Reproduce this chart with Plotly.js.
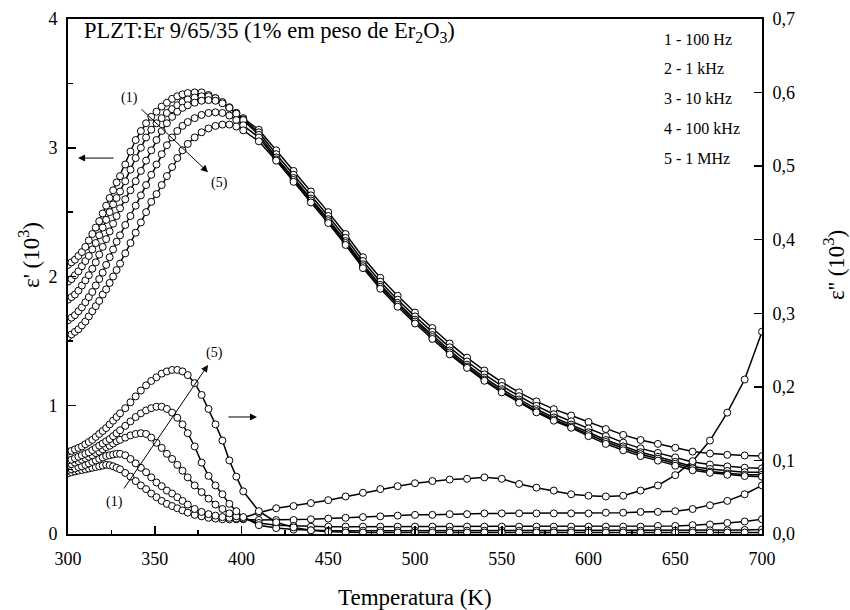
<!DOCTYPE html>
<html>
<head>
<meta charset="utf-8">
<script src="https://cdn.plot.ly/plotly-3.0.1.min.js"></script>
<style>html,body{margin:0;padding:0;background:#fff;}#chart{width:850px;height:610px;}</style>
</head>
<body>
<div id="chart"></div>
<script>
// Temperature (K) of the measured points
const temperature = [
  300,302,304,306,308,310,312,314,316,318,320,322,324,326,328,330,
  333,336,339,342,345,348,351,354,357,360,363,366,369,
  373,377,381,385,389,393,397,401,
  410,420,430,440,450,460,470,480,490,500,510,520,530,540,550,560,570,580,590,600,610,620,630,640,650,660,670,680,690,700
];

const frequencies = ["100 Hz", "1 kHz", "10 kHz", "100 kHz", "1 MHz"];

// epsilon' (10^3), left axis
const epsReal100Hz = [
  2.09,2.11,2.13,2.16,2.19,2.23,2.28,2.33,2.38,2.43,2.49,2.55,2.61,2.67,2.73,2.78,
  2.87,2.97,3.06,3.13,3.19,3.24,3.28,3.32,3.35,3.38,3.40,3.415,3.425,
  3.43,3.43,3.41,3.385,3.35,3.31,3.27,3.23,
  3.14,2.98,2.82,2.66,2.50,2.33,2.15,1.99,1.85,1.72,1.60,1.48,1.37,1.27,1.18,1.10,1.03,0.97,0.92,0.87,0.815,0.77,0.73,0.70,0.67,0.64,0.625,0.615,0.61,0.605
];
const epsReal1kHz = [
  1.96,1.98,2.01,2.04,2.08,2.12,2.16,2.21,2.26,2.32,2.38,2.44,2.50,2.56,2.61,2.66,
  2.74,2.83,2.92,3.00,3.08,3.14,3.19,3.23,3.27,3.30,3.33,3.355,3.375,
  3.39,3.40,3.40,3.385,3.355,3.315,3.27,3.22,
  3.12,2.95,2.79,2.63,2.47,2.30,2.12,1.96,1.82,1.69,1.57,1.45,1.34,1.24,1.15,1.07,0.995,0.93,0.875,0.82,0.76,0.71,0.665,0.63,0.595,0.56,0.54,0.525,0.515,0.51
];
const epsReal10kHz = [
  1.82,1.84,1.86,1.89,1.93,1.97,2.01,2.06,2.11,2.17,2.23,2.29,2.35,2.41,2.47,2.53,
  2.60,2.67,2.74,2.82,2.90,2.98,3.06,3.13,3.19,3.24,3.28,3.31,3.33,
  3.35,3.365,3.37,3.365,3.345,3.31,3.265,3.215,
  3.10,2.925,2.765,2.605,2.445,2.275,2.095,1.935,1.795,1.665,1.545,1.425,1.315,1.215,1.125,1.045,0.97,0.905,0.85,0.79,0.73,0.68,0.635,0.60,0.56,0.525,0.505,0.49,0.48,0.48
];
const epsReal100kHz = [
  1.66,1.68,1.70,1.73,1.76,1.80,1.84,1.88,1.93,1.98,2.03,2.09,2.15,2.21,2.27,2.32,
  2.40,2.47,2.55,2.63,2.71,2.79,2.87,2.95,3.02,3.08,3.13,3.17,3.20,
  3.23,3.255,3.27,3.275,3.27,3.25,3.215,3.175,
  3.08,2.91,2.75,2.59,2.43,2.26,2.08,1.92,1.78,1.65,1.53,1.41,1.30,1.20,1.11,1.03,0.955,0.89,0.835,0.775,0.715,0.665,0.62,0.585,0.545,0.51,0.485,0.47,0.46,0.46
];
const epsReal1MHz = [
  1.53,1.55,1.57,1.59,1.62,1.65,1.69,1.73,1.77,1.81,1.86,1.90,1.95,2.00,2.05,2.10,
  2.18,2.26,2.34,2.42,2.50,2.58,2.64,2.71,2.78,2.85,2.92,2.98,3.03,
  3.08,3.12,3.15,3.17,3.18,3.18,3.165,3.135,
  3.05,2.90,2.735,2.575,2.415,2.245,2.065,1.905,1.765,1.635,1.515,1.395,1.29,1.19,1.10,1.02,0.945,0.88,0.825,0.76,0.70,0.65,0.605,0.57,0.53,0.495,0.475,0.46,0.45,0.445
];

// epsilon'' (10^3), right axis
const epsImag100Hz = [
  0.0825,0.084,0.085,0.086,0.087,0.088,0.089,0.090,0.091,0.092,0.093,0.094,0.0935,0.092,0.090,0.088,
  0.083,0.078,0.072,0.066,0.061,0.055,0.050,0.045,0.041,0.038,0.035,0.032,0.029,
  0.026,0.024,0.022,0.021,0.020,0.020,0.020,0.022,
  0.029,0.035,0.038,0.042,0.046,0.051,0.056,0.061,0.065,0.069,0.072,0.074,0.075,0.077,0.075,0.068,0.063,0.059,0.054,0.052,0.051,0.052,0.059,0.066,0.080,0.099,0.127,0.165,0.21,0.275
];
const epsImag1kHz = [
  0.087,0.088,0.089,0.091,0.092,0.094,0.096,0.098,0.100,0.102,0.104,0.106,0.107,0.108,0.109,0.109,
  0.107,0.102,0.096,0.090,0.084,0.077,0.070,0.065,0.059,0.055,0.050,0.045,0.040,
  0.034,0.030,0.027,0.025,0.023,0.022,0.021,0.020,
  0.019,0.019,0.019,0.020,0.021,0.022,0.023,0.024,0.025,0.026,0.026,0.027,0.027,0.028,0.028,0.028,0.028,0.028,0.028,0.028,0.029,0.029,0.030,0.030,0.031,0.034,0.039,0.045,0.054,0.066
];
const epsImag10kHz = [
  0.094,0.095,0.097,0.099,0.101,0.103,0.105,0.107,0.110,0.112,0.115,0.118,0.120,0.123,0.126,0.128,
  0.131,0.134,0.136,0.137,0.136,0.131,0.124,0.117,0.109,0.102,0.094,0.086,0.077,
  0.066,0.057,0.048,0.040,0.034,0.028,0.024,0.021,
  0.015,0.012,0.011,0.010,0.010,0.010,0.010,0.010,0.010,0.010,0.010,0.010,0.010,0.010,0.010,0.010,0.010,0.010,0.010,0.010,0.010,0.010,0.010,0.011,0.011,0.012,0.013,0.015,0.017,0.020
];
const epsImag100kHz = [
  0.100,0.101,0.103,0.105,0.107,0.109,0.111,0.114,0.117,0.120,0.123,0.126,0.129,0.133,0.137,0.141,
  0.147,0.153,0.159,0.164,0.168,0.171,0.173,0.173,0.170,0.165,0.158,0.149,0.137,
  0.119,0.097,0.079,0.066,0.054,0.041,0.031,0.023,
  0.012,0.008,0.006,0.005,0.0045,0.0045,0.0045,0.0045,0.0045,0.0045,0.0045,0.0045,0.0045,0.0045,0.0045,0.0045,0.0045,0.0045,0.0045,0.0045,0.0045,0.0045,0.0045,0.0045,0.0045,0.0045,0.005,0.005,0.0055,0.006
];
const epsImag1MHz = [
  0.112,0.113,0.115,0.117,0.119,0.122,0.125,0.128,0.132,0.136,0.140,0.144,0.149,0.154,0.159,0.164,
  0.171,0.179,0.187,0.195,0.202,0.208,0.213,0.218,0.221,0.223,0.223,0.221,0.216,
  0.205,0.189,0.170,0.149,0.127,0.100,0.078,0.058,
  0.031,0.016,0.009,0.005,0.003,0.002,0.002,0.002,0.002,0.002,0.002,0.002,0.002,0.002,0.002,0.002,0.002,0.002,0.002,0.002,0.002,0.002,0.002,0.002,0.002,0.002,0.002,0.002,0.002,0.002
];

const realSeries = [epsReal100Hz, epsReal1kHz, epsReal10kHz, epsReal100kHz, epsReal1MHz];
const imagSeries = [epsImag100Hz, epsImag1kHz, epsImag10kHz, epsImag100kHz, epsImag1MHz];

const mk = {symbol: 'circle', size: 7, color: 'white', line: {color: 'black', width: 1}};
const traces = [];
realSeries.forEach((s, i) => traces.push({
  type: 'scatter', mode: 'lines+markers', x: temperature, y: s, name: "ε' " + frequencies[i],
  line: {color: 'black', width: 1.5}, marker: mk, yaxis: 'y', cliponaxis: true
}));
imagSeries.forEach((s, i) => traces.push({
  type: 'scatter', mode: 'lines+markers', x: temperature, y: s, name: "ε'' " + frequencies[i],
  line: {color: 'black', width: 1.5}, marker: mk, yaxis: 'y2', cliponaxis: true
}));

const FONT = 'Liberation Serif, Times New Roman, serif';
const axCommon = {
  showline: true, linecolor: 'black', linewidth: 2, showgrid: false, zeroline: false,
  ticks: 'inside', ticklen: 8, tickwidth: 1.5, tickcolor: 'black',
  tickfont: {family: FONT, size: 18, color: 'black'}
};

const legendLabels = frequencies.map((f, i) => (i + 1) + ' - ' + f);
const annotations = [
  {xref: 'paper', yref: 'paper', x: 0.0202, y: 0.975, xanchor: 'left', yanchor: 'middle', showarrow: false,
   text: 'PLZT:Er 9/65/35 (1% em peso de Er<sub>2</sub>O<sub>3</sub>)', font: {family: FONT, size: 22.5}},
  {xref: 'paper', yref: 'paper', x: -0.0562, y: 0.5417, xanchor: 'center', yanchor: 'middle', textangle: -90, showarrow: false,
   text: "ε' (10<sup>3</sup>)", font: {family: FONT, size: 23}},
  {xref: 'paper', yref: 'paper', x: 1.1037, y: 0.5223, xanchor: 'center', yanchor: 'middle', textangle: -90, showarrow: false,
   text: "ε'' (10<sup>3</sup>)", font: {family: FONT, size: 23}},
  {xref: 'paper', yref: 'paper', x: 0.5, y: -0.124, xanchor: 'center', yanchor: 'middle', showarrow: false,
   text: 'Temperatura (K)', font: {family: FONT, size: 23}},
  // curve labels
  {xref: 'x', yref: 'y', x: 335.7, y: 3.39, showarrow: false, text: '(1)', font: {family: FONT, size: 14}},
  {xref: 'x', yref: 'y', x: 387.6, y: 2.73, showarrow: false, text: '(5)', font: {family: FONT, size: 14}},
  {xref: 'x', yref: 'y', x: 384.7, y: 1.406, showarrow: false, text: '(5)', font: {family: FONT, size: 14}},
  {xref: 'x', yref: 'y', x: 327, y: 0.249, showarrow: false, text: '(1)', font: {family: FONT, size: 14}},
  // arrows
  {xref: 'x', yref: 'y', axref: 'x', ayref: 'y', x: 380.7, y: 2.81, ax: 341.5, ay: 3.31, text: '', showarrow: true, arrowhead: 2, arrowsize: 1.4, arrowwidth: 1, arrowcolor: 'black'},
  {xref: 'x', yref: 'y', axref: 'x', ayref: 'y', x: 305.8, y: 2.92, ax: 327.1, ay: 2.92, text: '', showarrow: true, arrowhead: 2, arrowsize: 1.4, arrowwidth: 1, arrowcolor: 'black'},
  {xref: 'x', yref: 'y', axref: 'x', ayref: 'y', x: 380.7, y: 1.313, ax: 331.7, ay: 0.342, text: '', showarrow: true, arrowhead: 2, arrowsize: 1.4, arrowwidth: 1, arrowcolor: 'black'},
  {xref: 'x', yref: 'y', axref: 'x', ayref: 'y', x: 408.9, y: 0.909, ax: 391.6, ay: 0.909, text: '', showarrow: true, arrowhead: 2, arrowsize: 1.4, arrowwidth: 1, arrowcolor: 'black'}
];
const legendY = [0.961, 0.903, 0.845, 0.788, 0.730];
legendLabels.forEach((t, i) => annotations.push({
  xref: 'paper', yref: 'paper', x: 0.856, y: legendY[i], xanchor: 'left', yanchor: 'middle',
  showarrow: false, text: t, font: {family: FONT, size: 16}
}));

const layout = {
  width: 850, height: 610,
  margin: {l: 68, r: 88, t: 19, b: 76, pad: 0},
  paper_bgcolor: 'white', plot_bgcolor: 'white',
  showlegend: false,
  separators: ',.',
  font: {family: FONT, size: 18, color: 'black'},
  xaxis: Object.assign({}, axCommon, {range: [300, 700], tick0: 300, dtick: 50, mirror: true, ticklabelstandoff: 7,
    minor: {ticks: 'inside', dtick: 25, ticklen: 4, tickwidth: 1.5, tickcolor: 'black', showgrid: false}}),
  yaxis: Object.assign({}, axCommon, {range: [0, 4], tick0: 0, dtick: 1, ticklabelstandoff: 5,
    minor: {ticks: 'inside', dtick: 0.5, ticklen: 5, tickwidth: 1.5, tickcolor: 'black', showgrid: false}}),
  yaxis2: Object.assign({}, axCommon, {range: [0, 0.7], tick0: 0, dtick: 0.1, tickformat: '.1f', ticklabelstandoff: 5,
    overlaying: 'y', side: 'right'}),
  annotations: annotations
};

Plotly.newPlot('chart', traces, layout, {displayModeBar: false, staticPlot: true});
</script>
</body>
</html>
